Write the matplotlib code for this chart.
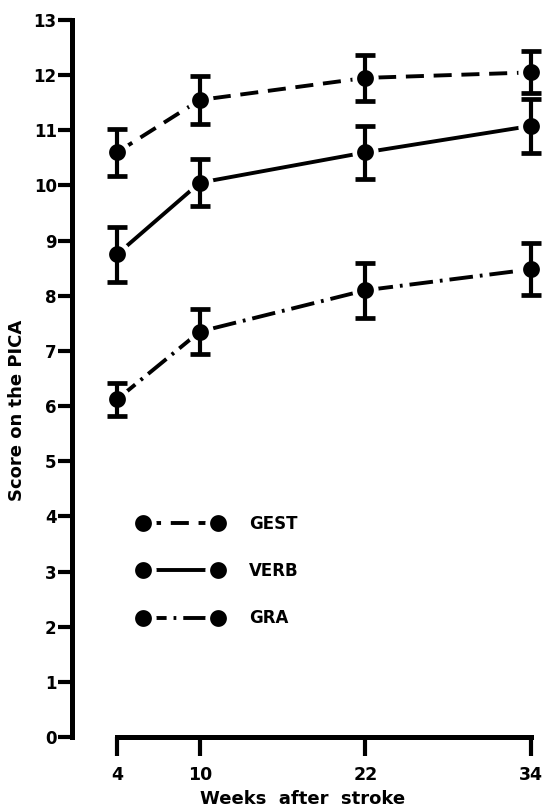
import matplotlib
matplotlib.use("Agg")
import matplotlib.pyplot as plt
from matplotlib.lines import Line2D

plt.rcParams['font.family'] = 'DejaVu Sans'
plt.rcParams['font.weight'] = 'bold'
plt.rcParams['lines.scale_dashes'] = False

# data
weeks = [4, 10, 22, 34]
gest = [10.6, 11.55, 11.95, 12.05]
gest_err = [0.43, 0.44, 0.42, 0.38]
verb = [8.75, 10.05, 10.6, 11.08]
verb_err = [0.5, 0.43, 0.48, 0.49]
gra = [6.12, 7.35, 8.1, 8.48]
gra_err = [0.3, 0.41, 0.5, 0.47]

labels = ['GEST', 'VERB', 'GRA']
styles = [(0, (13, 7)), '-', (0, (17, 5, 2, 5))]

fig = plt.figure(figsize=(5.42, 8.10), dpi=100)
ax = fig.add_axes([72/542, 1 - 737/810, 470/542, 717/810])

mk = dict(marker='o', markersize=15.5, markerfacecolor='black',
          markeredgecolor='white', markeredgewidth=3.4)

for vals, errs, ls in zip([gest, verb, gra], [gest_err, verb_err, gra_err], styles):
    ax.plot(weeks, vals, color='black', lw=2.8, linestyle=ls, zorder=2,
            solid_capstyle='butt', dash_capstyle='butt')
    ax.plot(weeks, vals, linestyle='none', zorder=3, **mk)
    ax.errorbar(weeks, vals, yerr=errs, fmt='none', ecolor='black',
                elinewidth=3, capsize=7, capthick=3.4, zorder=4)

ax.set_xlim(0.74, 34.8)
ax.set_ylim(0, 13)
ax.set_xticks(weeks)
ax.set_yticks(range(0, 14))

for s in ['top', 'right']:
    ax.spines[s].set_visible(False)
ax.spines['left'].set_bounds(0, 13)
ax.spines['bottom'].set_bounds(4, 34)
ax.spines['left'].set_linewidth(3.6)
ax.spines['bottom'].set_linewidth(3.6)
ax.spines['left'].set_capstyle('projecting')

ax.tick_params(axis='y', length=10, width=3, pad=1, labelsize=12)
ax.tick_params(axis='x', length=14, width=3, pad=7, labelsize=12.5)

ax.set_ylabel('Score on the PICA', fontsize=13, fontweight='bold')
ax.yaxis.set_label_coords(-0.098, 0.456)
ax.set_xlabel('Weeks  after  stroke', fontsize=13, fontweight='bold')
ax.xaxis.set_label_coords(0.491, -0.074)

handles = [Line2D([], [], color='black', lw=2.8, linestyle=ls, **mk) for ls in styles]
ax.legend(handles, labels, loc='upper left', bbox_to_anchor=(0.109, 0.331),
          frameon=False, numpoints=2, handlelength=5.1, handletextpad=1.55,
          labelspacing=1.76, prop={'size': 12, 'weight': 'bold'})

fig.savefig('out.png', dpi=100)
